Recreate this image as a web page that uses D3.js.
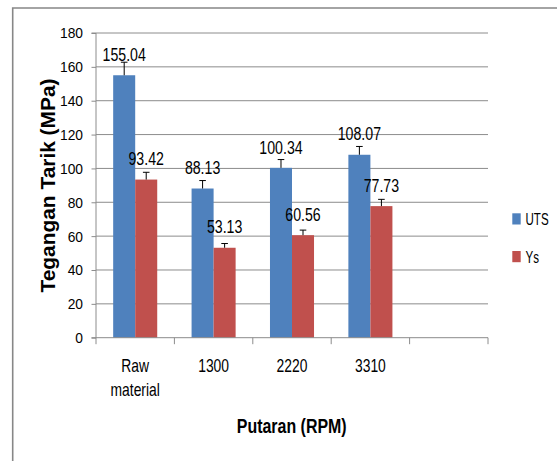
<!DOCTYPE html>
<html>
<head>
<meta charset="utf-8">
<script src="https://cdn.jsdelivr.net/npm/d3@7"></script>
<style>
  html, body { margin: 0; padding: 0; background: #fff; }
  svg { display: block; }
  text { font-family: "Liberation Sans", Arial, sans-serif; fill: #000; }
</style>
</head>
<body>
<script>
// ---- data ----
const categories = ["Raw material", "1300", "2220", "3310", ""];
const series = ["UTS", "Ys"];
const utsValues = [155.04, 88.13, 100.34, 108.07, null];
const ysValues = [93.42, 53.13, 60.56, 77.73, null];
const utsErrors = [7.7, 4.7, 4.9, 4.9, null];
const ysErrors = [4.3, 2.5, 3.0, 4.0, null];
const yTicks = [0, 20, 40, 60, 80, 100, 120, 140, 160, 180];
const yTitle = "Tegangan Tarik (MPa)";
const xTitle = "Putaran (RPM)";

const colors = { UTS: "#4F81BD", Ys: "#C0504D" };
const W = 557, H = 461;
const plot = { left: 96, right: 488, top: 33, bottom: 337.7 };

const svg = d3.select("body").append("svg").attr("width", W).attr("height", H);

// outer frame (right & bottom beyond view)
svg.append("path")
  .attr("d", `M12.7,${H + 2}V8H${W + 2}`)
  .attr("fill", "none").attr("stroke", "#878787").attr("stroke-width", 1.6);

const y = d3.scaleLinear().domain([0, 180]).range([plot.bottom, plot.top]);
const x0 = d3.scaleBand().domain(categories).range([plot.left, plot.right]).padding(0);
const x1 = d3.scaleBand().domain(series).range([0, x0.bandwidth()]).paddingInner(0).paddingOuter(0.78);

function label(g, txt, xx, yy, size, sx, anchor, weight) {
  return g.append("text")
    .attr("transform", `translate(${xx},${yy}) scale(${sx},1)`)
    .attr("text-anchor", anchor || "middle")
    .style("font-size", size + "px")
    .style("font-weight", weight || "normal")
    .text(txt);
}

// gridlines
svg.append("g").selectAll("line").data(yTicks.filter(d => d > 0)).join("line")
  .attr("x1", plot.left).attr("x2", plot.right)
  .attr("y1", d => y(d)).attr("y2", d => y(d))
  .attr("stroke", "#8c8c8c").attr("stroke-width", 1);

// y axis
const yAxis = d3.axisLeft(y).tickValues(yTicks).tickSize(4.5).tickFormat("");
const gy = svg.append("g").attr("transform", `translate(${plot.left},0)`).call(yAxis);
gy.select(".domain").attr("stroke", "#8c8c8c").attr("d", `M-4.5,${plot.bottom}H0V${plot.top}H-4.5`);
gy.selectAll(".tick line").attr("stroke", "#8c8c8c");
yTicks.forEach(t => label(svg, String(t), 83, y(t) + 5.4, 15, 0.92, "end"));

// bars
const rows = categories.map((c, i) => ({
  cat: c,
  vals: [
    { key: "UTS", v: utsValues[i], e: utsErrors[i] },
    { key: "Ys", v: ysValues[i], e: ysErrors[i] }
  ].filter(d => d.v != null)
}));
const groups = svg.append("g").selectAll("g").data(rows).join("g")
  .attr("transform", d => `translate(${x0(d.cat)},0)`);
groups.selectAll("rect").data(d => d.vals).join("rect")
  .attr("x", d => x1(d.key)).attr("width", x1.bandwidth())
  .attr("y", d => y(d.v)).attr("height", d => y(0) - y(d.v))
  .attr("fill", d => colors[d.key]);

// error bars
groups.each(function (r) {
  const g = d3.select(this);
  r.vals.forEach(d => {
    const cx = x1(d.key) + x1.bandwidth() / 2;
    g.append("line").attr("x1", cx).attr("x2", cx)
      .attr("y1", y(d.v)).attr("y2", y(d.v + d.e))
      .attr("stroke", "#000").attr("stroke-width", 1);
    g.append("line").attr("x1", cx - 3.3).attr("x2", cx + 3.3)
      .attr("y1", y(d.v + d.e)).attr("y2", y(d.v + d.e))
      .attr("stroke", "#000").attr("stroke-width", 1);
    label(g, d.v.toFixed(2), cx, y(d.v) - 14.3, 18.5, 0.765, "middle");
  });
});

// x axis
const xAxis = d3.axisBottom(x0).tickSize(0).tickFormat("");
const gx = svg.append("g").attr("transform", `translate(0,${plot.bottom})`).call(xAxis);
gx.select(".domain").attr("stroke", "#8c8c8c").attr("d", `M${plot.left},0H${plot.right}`);
const bounds = categories.map(c => x0(c)).concat([plot.right]);
svg.append("g").selectAll("line").data(bounds).join("line")
  .attr("x1", d => d).attr("x2", d => d)
  .attr("y1", plot.bottom).attr("y2", plot.bottom + 6.5)
  .attr("stroke", "#8c8c8c");
categories.forEach(c => {
  const cx = x0(c) + x0.bandwidth() / 2;
  const parts = c.split(" ");
  parts.forEach((p, k) => label(svg, p, cx, 371.7 + k * 24.7, 18.5, 0.75, "middle"));
});

// axis titles
label(svg, xTitle, 291.7, 433, 21, 0.76, "middle", "bold");
svg.append("text")
  .attr("transform", `translate(54.5,185.5) rotate(-90) scale(0.95,0.92)`)
  .attr("text-anchor", "middle")
  .style("font-size", "22px").style("font-weight", "bold")
  .text(yTitle);

// legend
const legY = { UTS: 213.3, Ys: 251 };
series.forEach(s => {
  svg.append("rect").attr("x", 512.3).attr("y", legY[s]).attr("width", 8.4).attr("height", 11.2)
    .attr("fill", colors[s]);
  label(svg, s, 525.5, legY[s] + 11.8, 16.3, 0.71, "start");
});
</script>
</body>
</html>
